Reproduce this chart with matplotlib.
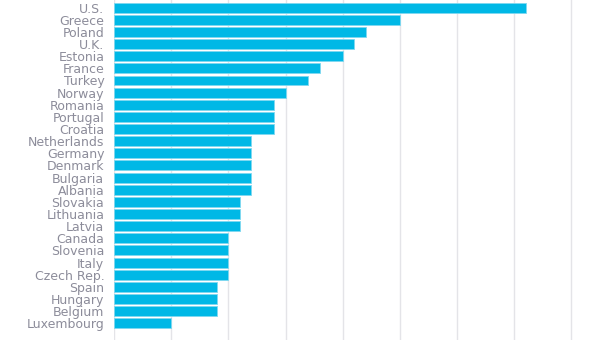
import matplotlib.pyplot as plt

# Defence spending, % of GDP
countries = ['U.S.', 'Greece', 'Poland', 'U.K.', 'Estonia', 'France', 'Turkey',
             'Norway', 'Romania', 'Portugal', 'Croatia', 'Netherlands', 'Germany',
             'Denmark', 'Bulgaria', 'Albania', 'Slovakia', 'Lithuania', 'Latvia',
             'Canada', 'Slovenia', 'Italy', 'Czech Rep.', 'Spain', 'Hungary',
             'Belgium', 'Luxembourg']
spending = [3.6, 2.5, 2.2, 2.1, 2.0, 1.8, 1.7,
            1.5, 1.4, 1.4, 1.4, 1.2, 1.2,
            1.2, 1.2, 1.2, 1.1, 1.1, 1.1,
            1.0, 1.0, 1.0, 1.0, 0.9, 0.9,
            0.9, 0.5]
grid_ticks = [0, 0.5, 1.0, 1.5, 2.0, 2.5, 3.0, 3.5, 4.0]

bar_color = '#00b8e6'
label_color = '#8c8c9a'

fig = plt.figure(figsize=(6.16, 3.46), dpi=100)
ax = fig.add_axes([114 / 616, 6 / 346, 502 / 616, 340 / 346])

ypos = list(range(len(countries)))
ax.barh(ypos, spending, height=0.82, color=bar_color,
        edgecolor='#7fd8f0', linewidth=0.6)

ax.set_xlim(0, 4.39)
ax.set_ylim(len(countries) - 1 + 1.38, -0.63)
ax.set_xticks(grid_ticks)
ax.set_xticklabels([])
ax.set_yticks(ypos)
ax.set_yticklabels(countries, fontsize=9.0, color=label_color)
ax.tick_params(axis='both', length=0, pad=7)
ax.grid(axis='x', color='#e4e4e8', linewidth=1.0)
ax.set_axisbelow(True)
for side in ax.spines.values():
    side.set_visible(False)

fig.savefig('out.png', dpi=100)
